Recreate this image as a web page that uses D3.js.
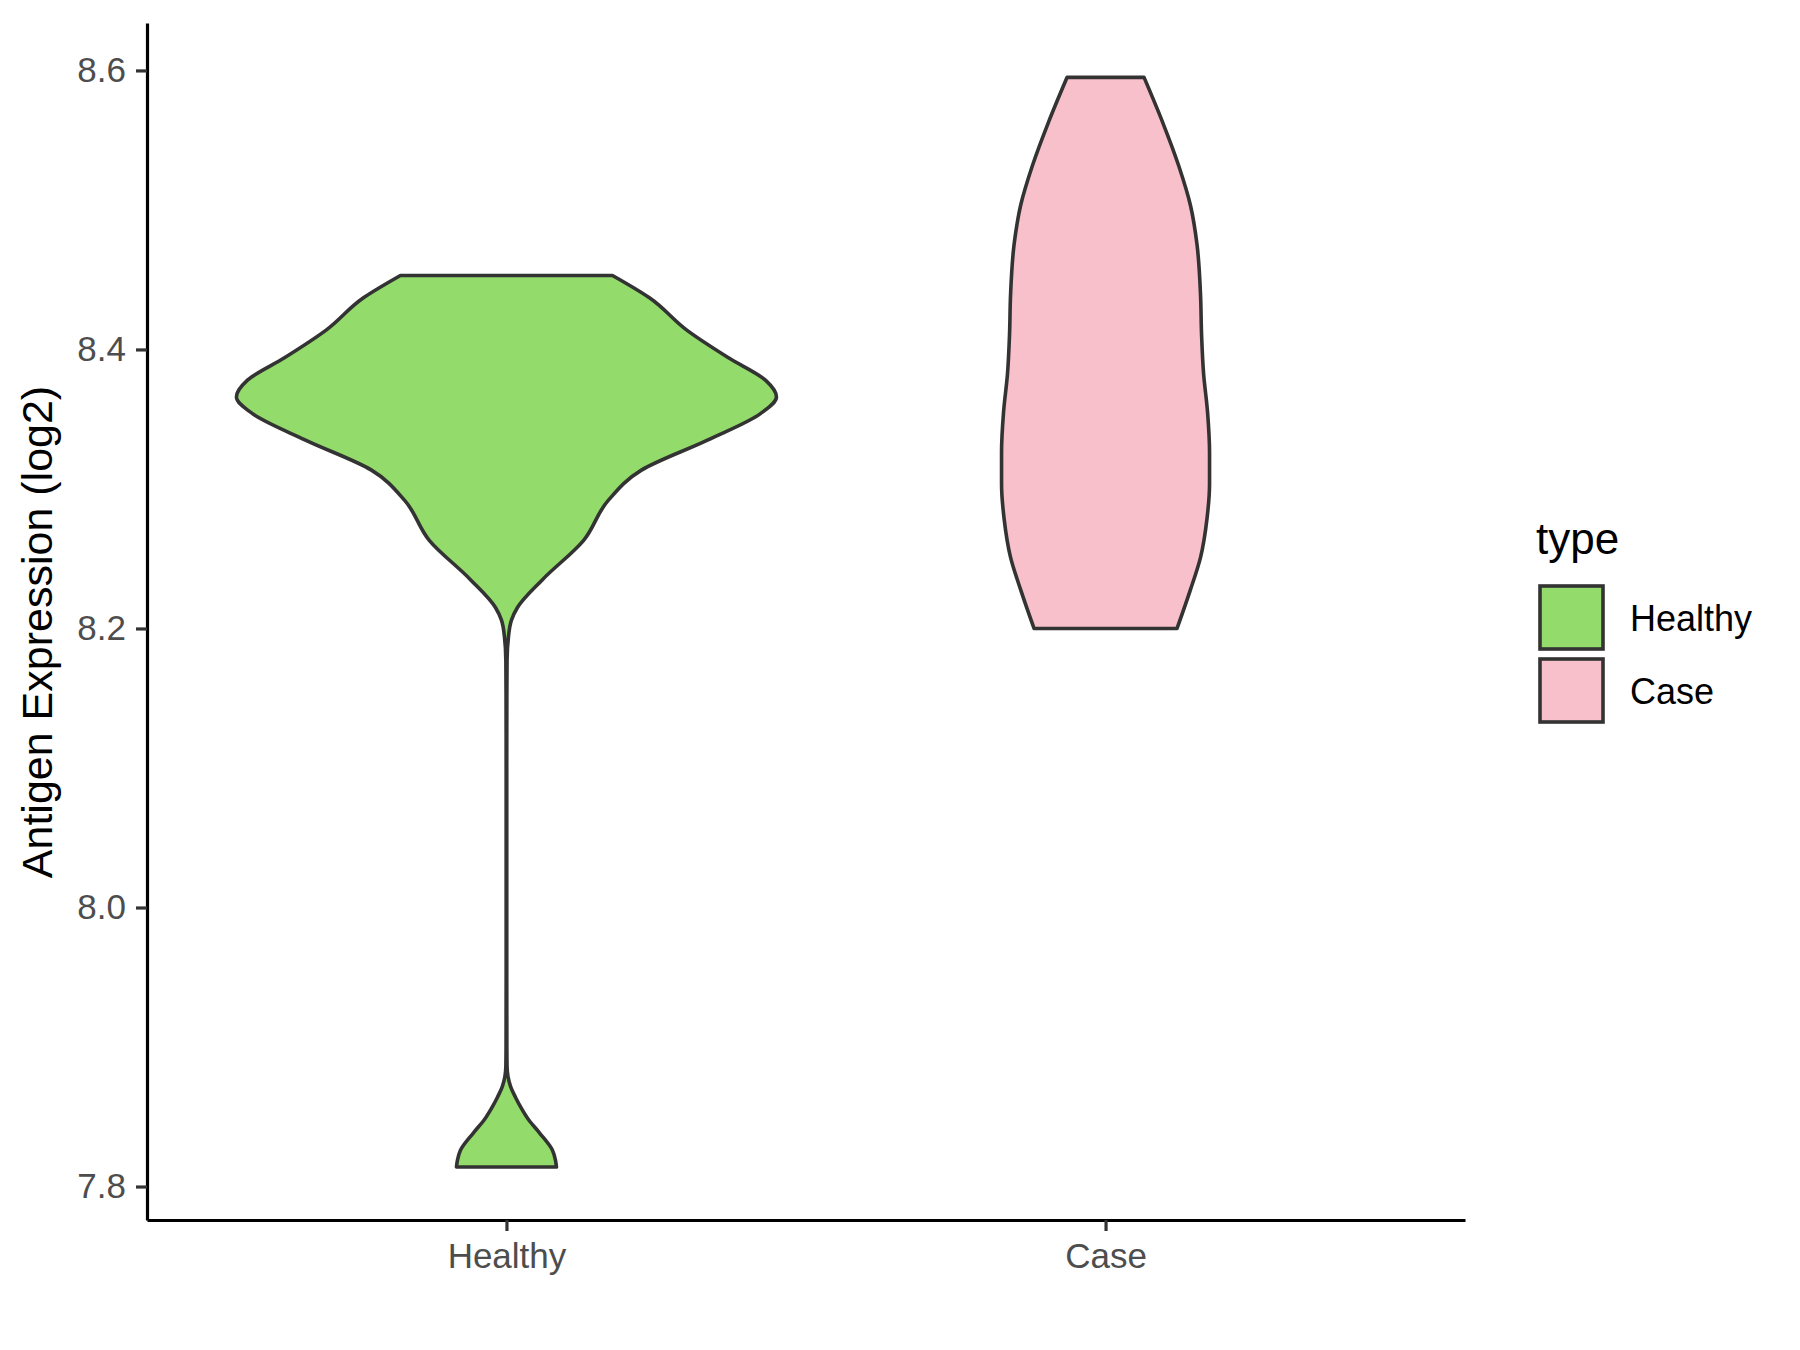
<!DOCTYPE html>
<html>
<head>
<meta charset="utf-8">
<script src="https://cdn.jsdelivr.net/npm/d3@7"></script>
<style>
  body { margin: 0; background: #fff; }
  text { font-family: "Liberation Sans", Arial, sans-serif; }
</style>
</head>
<body>
<div id="chart"></div>
<script>
// groups on the x axis
var groups = ["Healthy", "Case"];
var colors = ["#93DB6B", "#F7C0CB"];

// violin outlines: expression value and estimated half width (density)
var healthyVals = [7.814, 7.819, 7.826, 7.8385, 7.848, 7.856, 7.864, 7.872, 7.879, 7.886, 7.90, 7.95, 8.00, 8.05, 8.10, 8.15,
  8.177, 8.194, 8.206, 8.215, 8.235, 8.263, 8.292, 8.3135, 8.335, 8.354, 8.366, 8.378, 8.394, 8.414, 8.437, 8.453];
var healthyDens = [0.50, 0.49, 0.46, 0.33, 0.22, 0.15, 0.09, 0.04, 0.015, 0.006, 0.004, 0.003, 0.003, 0.003, 0.003, 0.004,
  0.006, 0.02, 0.05, 0.11, 0.36, 0.77, 1.02, 1.35, 2.01, 2.54, 2.70, 2.59, 2.22, 1.80, 1.43, 1.06];

var caseVals = [8.200, 8.228, 8.251, 8.279, 8.304, 8.326, 8.355, 8.383, 8.411, 8.439, 8.475, 8.503, 8.532, 8.563, 8.595];
var caseDens = [0.715, 0.85, 0.95, 1.015, 1.04, 1.04, 1.02, 0.98, 0.96, 0.95, 0.915, 0.85, 0.73, 0.57, 0.385];

var yTicks = [7.8, 8.0, 8.2, 8.4, 8.6];

var width = 1800, height = 1350;
var margin = { top: 23, right: 335, bottom: 130, left: 147 };

var svg = d3.select("#chart").append("svg")
  .attr("width", width)
  .attr("height", height);

var x = d3.scalePoint()
  .domain(groups)
  .range([margin.left, width - margin.right])
  .padding(0.6);

var y = d3.scaleLinear()
  .domain([7.776, 8.634])
  .range([height - margin.bottom, margin.top]);

var w = d3.scaleLinear()
  .domain([0, d3.max(healthyDens.concat(caseDens))])
  .range([0, 270]);

var violins = [
  { name: "Healthy", vals: healthyVals, dens: healthyDens, color: colors[0] },
  { name: "Case", vals: caseVals, dens: caseDens, color: colors[1] }
];

violins.forEach(v => {
  var pts = v.vals.map((d, i) => ({ v: d, d: v.dens[i] }))
    .sort((a, b) => b.v - a.v);
  var cx = x(v.name);
  var area = d3.area()
    .curve(d3.curveMonotoneY)
    .y(d => y(d.v))
    .x0(d => cx - w(d.d))
    .x1(d => cx + w(d.d));
  svg.append("path")
    .datum(pts)
    .attr("d", area)
    .attr("fill", v.color)
    .attr("stroke", "#333333")
    .attr("stroke-width", 3.6)
    .attr("stroke-linejoin", "round");
});

// axes
var yAxis = svg.append("g")
  .attr("transform", `translate(${margin.left},0)`)
  .call(d3.axisLeft(y).tickValues(yTicks).tickFormat(d3.format(".1f"))
    .tickSize(11).tickSizeOuter(0).tickPadding(10));

var xAxis = svg.append("g")
  .attr("transform", `translate(0,${height - margin.bottom})`)
  .call(d3.axisBottom(x).tickSize(11).tickSizeOuter(0).tickPadding(12));

[yAxis, xAxis].forEach(g => {
  g.select(".domain").attr("stroke", "#000").attr("stroke-width", 3.2);
  g.selectAll(".tick line").attr("stroke", "#333333").attr("stroke-width", 3.2);
  g.selectAll(".tick text")
    .attr("fill", "#4D4D4D")
    .style("font-size", "35px");
});

svg.append("text")
  .attr("transform", `translate(52,632) rotate(-90)`)
  .attr("text-anchor", "middle")
  .attr("fill", "#000")
  .style("font-size", "43px")
  .text("Antigen Expression (log2)");

// legend
var legend = svg.append("g");
legend.append("text")
  .attr("x", 1536)
  .attr("y", 554)
  .attr("fill", "#000")
  .style("font-size", "44px")
  .text("type");

groups.forEach((gname, i) => {
  legend.append("rect")
    .attr("x", 1540)
    .attr("y", 586 + i * 73)
    .attr("width", 63)
    .attr("height", 63)
    .attr("fill", colors[i])
    .attr("stroke", "#333333")
    .attr("stroke-width", 3.6);
  legend.append("text")
    .attr("x", 1630)
    .attr("y", 618 + i * 73)
    .attr("dy", "0.35em")
    .attr("fill", "#000")
    .style("font-size", "36px")
    .text(gname);
});
</script>
</body>
</html>
